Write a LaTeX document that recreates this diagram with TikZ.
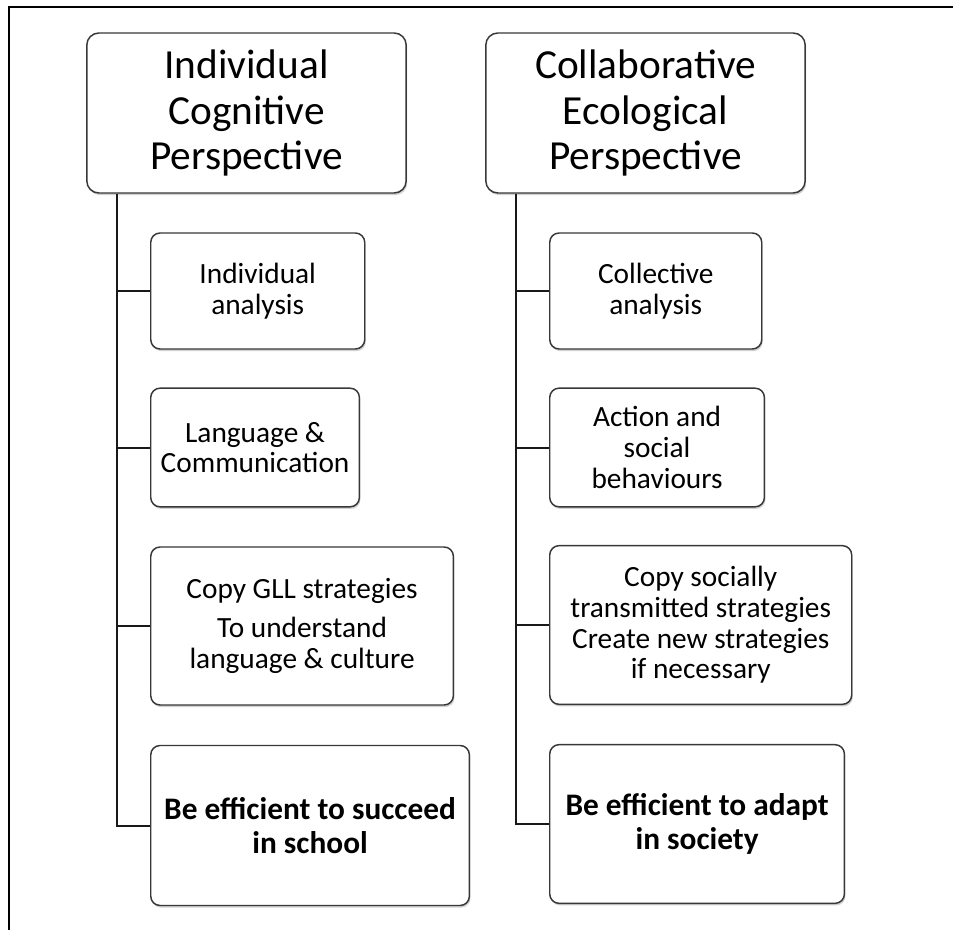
\documentclass[tikz,border=0pt]{standalone}
\usepackage{fontspec}
\setmainfont{Carlito}
\usetikzlibrary{calc, shadows}
\tikzset{
   box/.style={draw=black!78, line width=1.1pt, fill=white, align=center,
      inner sep=0pt, text=black,
      drop shadow={shadow xshift=0.8pt, shadow yshift=-1.6pt, fill=black!40, opacity=0.45}},
   head/.style={box, rounded corners=9pt, minimum width=239.5pt, minimum height=120pt,
      font=\fontsize{31}{34}\selectfont},
   leaf/.style={box, rounded corners=7pt, anchor=west, font=\fontsize{22}{23}\selectfont},
   goal/.style={leaf, font=\fontsize{23.5}{25}\selectfont\bfseries},
   link/.style={draw=black!90, line width=1.5pt},
   frame/.style={draw=black, line width=1.5pt}
}
\begin{document}
\begin{tikzpicture}[x=0.75pt, y=-0.75pt]
   \newcommand{\colshift}{399}
   \useasboundingbox (0,0) rectangle (953,930);
   \draw[frame] (953,7) -- (9,7) -- (9,930);
   % left column
   \node[head] (icp) at (246.5,113) {Individual\\Cognitive\\Perspective};
   \node[leaf, minimum width=160.5pt, minimum height=87pt] (ia) at (150,291) {Individual\\analysis};
   \node[leaf, minimum width=156.5pt, minimum height=89pt] (lc) at (150,447.5) {Language \&\\Communication};
   \node[leaf, minimum width=227pt, minimum height=118.5pt] (gll) at (150,626)
      {Copy GLL strategies\\[6pt]To understand\\language \& culture};
   \node[goal, minimum width=239pt, minimum height=120pt] (sch) at (150,825.5)
      {Be efficient to succeed\\in school};
   \coordinate (ltop) at ($(icp.south west)+(31,0)$);
   \draw[link] (ltop) |- (sch.west);
   \foreach \n in {ia,lc,gll}
      \draw[link] (ltop |- \n.west) -- (\n.west);
   % right column
   \begin{scope}[shift={(\colshift,0)}]
      \node[head] (cep) at (246.5,113) {Collaborative\\Ecological\\Perspective};
      \node[leaf, minimum width=159pt, minimum height=87pt] (ca) at (150,291) {Collective\\analysis};
      \node[leaf, minimum width=161pt, minimum height=89pt] (asb) at (150,447.5)
         {Action and\\social\\behaviours};
      \node[leaf, minimum width=226.5pt, minimum height=119pt] (cst) at (150,625)
         {Copy socially\\transmitted strategies\\Create new strategies\\if necessary};
      \node[goal, minimum width=221pt, minimum height=119pt] (soc) at (150,824)
         {Be efficient to adapt\\in society};
      \coordinate (rtop) at ($(cep.south west)+(31,0)$);
      \draw[link] (rtop) |- (soc.west);
      \foreach \n in {ca,asb,cst}
         \draw[link] (rtop |- \n.west) -- (\n.west);
   \end{scope}
\end{tikzpicture}
\end{document}
